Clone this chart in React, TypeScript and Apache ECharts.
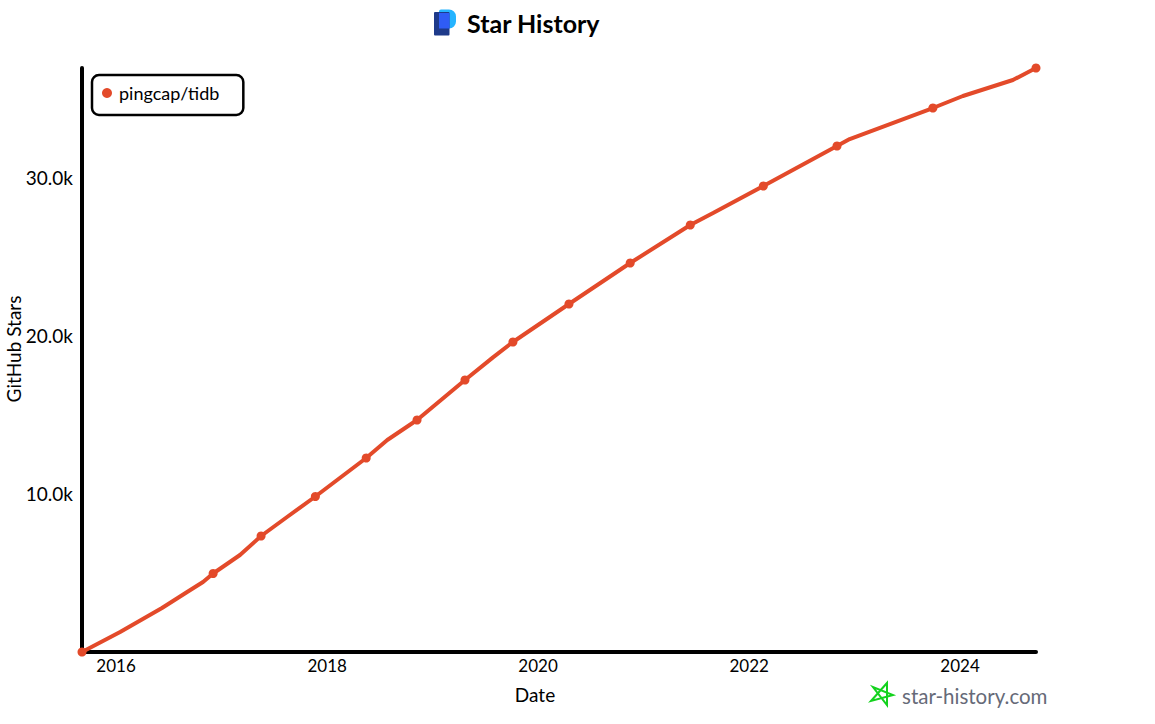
import React, { useEffect, useRef } from "react";
import * as echarts from "echarts";

const seriesName = "pingcap/tidb";
const titleText = "Star History";
const yAxisName = "GitHub Stars";
const xAxisName = "Date";
const watermark = "star-history.com";

const dates = [
  "2015-09-05", "2016-01-15", "2016-06-08", "2016-09-03", "2016-10-28", "2016-12-02",
  "2017-03-05", "2017-05-17", "2017-08-15", "2017-11-21", "2018-05-16", "2018-07-28",
  "2018-11-08", "2019-04-23", "2019-07-29", "2019-10-06", "2020-04-17", "2020-11-15",
  "2021-06-11", "2021-08-29", "2022-02-19", "2022-11-01", "2022-12-15", "2023-09-29",
  "2024-01-11", "2024-07-02", "2024-09-20",
];
const stars = [
  0, 1266, 2785, 3797, 4430, 4968,
  6139, 7342, 8544, 9842, 12278, 13418,
  14684, 17215, 18650, 19620, 22025, 24620,
  27025, 27785, 29494, 32025, 32468, 34430,
  35190, 36203, 36962,
];
const markerDates = [
  "2015-09-05", "2016-12-02", "2017-05-17", "2017-11-21", "2018-05-16", "2018-11-08",
  "2019-04-23", "2019-10-06", "2020-04-17", "2020-11-15", "2021-06-11", "2022-02-19",
  "2022-11-01", "2023-09-29", "2024-09-20",
];
const yearTicks = ["2016-01-01", "2018-01-01", "2020-01-01", "2022-01-01", "2024-01-01"];
const starTicks = [10000, 20000, 30000];

const FONT = "Lato";
const RED = "#E34A2A";
const ms = (d: string) => new Date(d).getTime();

export default function App() {
  const ref = useRef<HTMLDivElement>(null);

  useEffect(() => {
    if (!ref.current) return;
    const chart = echarts.init(ref.current, undefined, { renderer: "svg" });
    const data = dates.map((d, i) => ({
      value: [ms(d), stars[i]],
      symbol: markerDates.includes(d) ? "circle" : "none",
    }));
    chart.setOption({
      animation: false,
      backgroundColor: "#ffffff",
      textStyle: { fontFamily: FONT, color: "#000" },
      title: {
        text: titleText,
        left: 467,
        top: 10,
        padding: 0,
        textStyle: { fontFamily: FONT, fontSize: 25, fontWeight: "bold", color: "#000" },
      },
      legend: {
        left: 92,
        top: 75,
        padding: [9, 24, 13, 10],
        borderColor: "#000",
        borderWidth: 2.5,
        borderRadius: 7,
        icon: "circle",
        itemWidth: 14,
        itemHeight: 10,
        itemGap: 0,
        textStyle: { fontFamily: FONT, fontSize: 18, color: "#000" },
        data: [seriesName],
      },
      grid: { left: 82, right: 119, top: 68, bottom: 72, containLabel: false, outerBoundsMode: "none" },
      xAxis: {
        type: "value",
        scale: true,
        min: ms(dates[0]),
        max: ms(dates[dates.length - 1]),
        name: xAxisName,
        nameLocation: "middle",
        nameGap: 33,
        nameMoveOverlap: false,
        nameTextStyle: { fontFamily: FONT, fontSize: 19, color: "#000", padding: [0, 48, 0, 0] },
        axisLine: { lineStyle: { color: "#000", width: 4 } },
        axisTick: { show: false },
        splitLine: { show: false },
        axisLabel: {
          customValues: yearTicks.map(ms),
          formatter: (v: number) => String(new Date(v).getUTCFullYear()),
          fontFamily: FONT,
          fontSize: 17,
          color: "#000",
          margin: 5,
          hideOverlap: false,
        },
      },
      yAxis: {
        type: "value",
        min: 0,
        max: 36962,
        name: yAxisName,
        nameLocation: "middle",
        nameGap: 59,
        nameMoveOverlap: false,
        nameTextStyle: { fontFamily: FONT, fontSize: 19, color: "#000", padding: [0, 0, 0, 22] },
        axisLine: { show: true, lineStyle: { color: "#000", width: 4 } },
        axisTick: { show: false },
        splitLine: { show: false },
        axisLabel: {
          customValues: starTicks,
          formatter: (v: number) => `${(v / 1000).toFixed(1)}k`,
          fontFamily: FONT,
          fontSize: 19,
          color: "#000",
          margin: 9,
        },
      },
      series: [
        {
          name: seriesName,
          type: "line",
          data,
          showSymbol: true,
          showAllSymbol: true,
          symbolSize: 9,
          clip: false,
          itemStyle: { color: RED },
          lineStyle: { color: RED, width: 4 },
        },
      ],
      graphic: [
        { type: "rect", shape: { x: 439, y: 9.5, width: 17, height: 19, r: [2, 7, 7, 1] }, style: { fill: "#25B4FF" } },
        { type: "rect", shape: { x: 434, y: 12, width: 15.5, height: 23.5, r: 1 }, style: { fill: "#1E3A8A" } },
        { type: "rect", shape: { x: 439, y: 13, width: 10.5, height: 15.5 }, style: { fill: "#2F5CF5" } },
        {
          type: "polygon",
          shape: { points: [[887, 683], [887, 705], [873, 687], [893, 695], [871, 701]] },
          style: { fill: "none", stroke: "#14D21E", lineWidth: 2 },
        },
        {
          type: "text",
          x: 902,
          y: 696,
          style: {
            text: watermark,
            fontFamily: FONT,
            fontSize: 20.5,
            fill: "#666a78",
            textVerticalAlign: "middle",
          },
        },
      ],
    });
    return () => chart.dispose();
  }, []);

  return (
    <div
      ref={ref}
      style={{ position: "fixed", left: 0, top: 0, width: 1155, height: 724, background: "#fff" }}
    />
  );
}
